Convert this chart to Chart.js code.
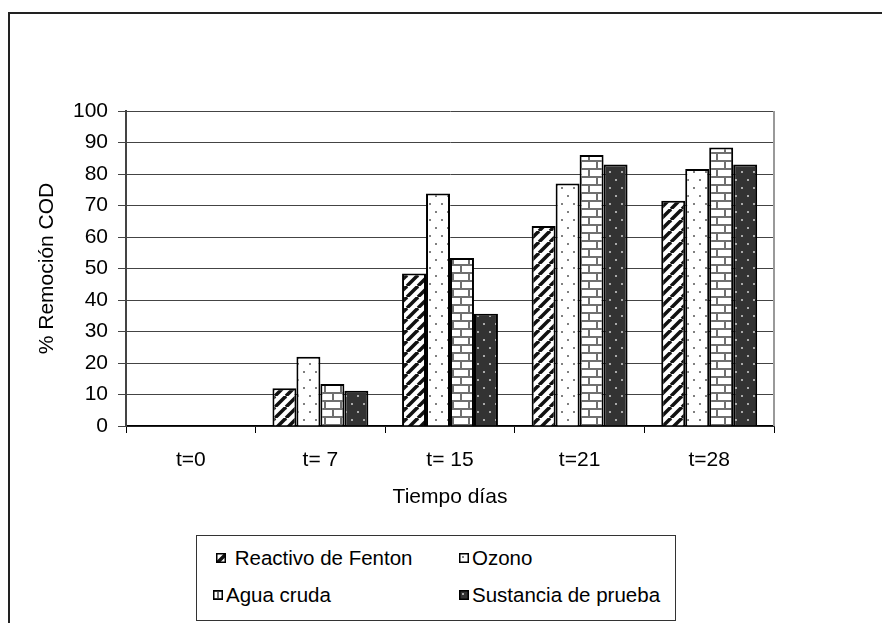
<!DOCTYPE html>
<html>
<head>
<meta charset="utf-8">
<script src="https://cdn.jsdelivr.net/npm/chart.js@4/dist/chart.umd.min.js"></script>
<style>
  html, body { margin: 0; padding: 0; background: #fff; overflow: hidden; }
  #frame { position: absolute; left: 8px; top: 12px; width: 1000px; height: 1000px;
           border-left: 2px solid #222; border-top: 2px solid #222; }
  #wrap { position: absolute; left: 0; top: 0; width: 882px; height: 623px; }
  #legend { position: absolute; left: 196px; top: 535px; width: 480px; height: 86px;
            border: 1px solid #333; box-sizing: border-box; background: #fff;
            font-family: "Liberation Sans", Arial, sans-serif; font-size: 20.5px; color: #000; }
  .item { position: absolute; display: flex; align-items: center; white-space: pre; }
  .item canvas { width: 10px; height: 10px; margin-right: 3px; }
</style>
</head>
<body>
<div id="frame"></div>
<div id="wrap"><canvas id="c" width="882" height="623"></canvas></div>
<div id="legend"></div>
<script>
const categories = ['t=0', 't= 7', 't= 15', 't=21', 't=28'];
const seriesNames = [' Reactivo de Fenton', 'Ozono', 'Agua cruda', 'Sustancia de prueba'];
const fenton    = [0, 12.0, 48.4, 63.5, 71.5];
const ozono     = [0, 22.0, 73.8, 77.0, 81.6];
const aguaCruda = [0, 13.3, 53.3, 86.0, 88.4];
const sustancia = [0, 11.2, 35.6, 83.0, 83.0];
const yMin = 0, yMax = 100, yStep = 10;
const xTitle = 'Tiempo días';
const yTitle = '% Remoción COD';

function makeTile(w, h, draw) {
  const c = document.createElement('canvas');
  c.width = w; c.height = h;
  const g = c.getContext('2d');
  draw(g, w, h);
  return c;
}
const tiles = [
  makeTile(11, 11, (g, w, h) => {
    g.fillStyle = '#fff'; g.fillRect(0, 0, w, h);
    g.strokeStyle = '#111'; g.lineWidth = 3.5;
    for (const o of [-w, 0, w]) { g.beginPath(); g.moveTo(o, h); g.lineTo(o + w, 0); g.stroke(); }
  }),
  makeTile(12, 16, (g, w, h) => {
    g.fillStyle = '#fff'; g.fillRect(0, 0, w, h);
    g.fillStyle = '#808080'; g.fillRect(3, 3, 2, 2); g.fillRect(9, 11, 2, 2);
  }),
  makeTile(16, 16, (g, w, h) => {
    g.fillStyle = '#fff'; g.fillRect(0, 0, w, h);
    g.fillStyle = '#707070';
    g.fillRect(0, 0, w, 2); g.fillRect(0, 8, w, 2);
    g.fillRect(4, 2, 2, 6); g.fillRect(12, 10, 2, 6);
  }),
  makeTile(12, 16, (g, w, h) => {
    g.fillStyle = '#333'; g.fillRect(0, 0, w, h);
    g.fillStyle = '#aaa'; g.fillRect(3, 3, 2, 2); g.fillRect(9, 11, 2, 2);
  })
];
const ctx = document.getElementById('c').getContext('2d');
const patterns = tiles.map(t => ctx.createPattern(t, 'repeat'));

const seriesData = [fenton, ozono, aguaCruda, sustancia];
const datasets = seriesData.map((d, i) => ({
  label: seriesNames[i], data: d,
  backgroundColor: patterns[i], borderColor: '#000', borderWidth: 2,
  categoryPercentage: 0.74, barPercentage: 1.0
}));

const FONT = { family: '"Liberation Sans", Arial, sans-serif', size: 21 };

const rightBorder = {
  id: 'rightBorder',
  afterDatasetsDraw(chart) {
    const a = chart.chartArea, g = chart.ctx;
    g.save(); g.strokeStyle = '#999'; g.lineWidth = 2;
    g.beginPath(); g.moveTo(a.right, a.top); g.lineTo(a.right, a.bottom); g.stroke();
    g.restore();
  }
};

new Chart(ctx, {
  type: 'bar',
  data: { labels: categories, datasets },
  plugins: [rightBorder],
  options: {
    responsive: false, animation: false,
    layout: { padding: { top: 111, right: 108, bottom: 0, left: 0 } },
    plugins: { legend: { display: false }, tooltip: { enabled: false } },
    scales: {
      x: {
        grid: { display: true, drawOnChartArea: false, offset: true, tickLength: 7, color: '#000', lineWidth: 1 },
        border: { display: true, color: '#000', width: 1.5 },
        ticks: { color: '#000', font: FONT, padding: 15, maxRotation: 0 },
        title: { display: true, text: xTitle, color: '#000', font: FONT, padding: { top: 0, bottom: 113 } },
        afterFit(s) { s.height = 197; }
      },
      y: {
        min: yMin, max: yMax,
        grid: { display: true, drawOnChartArea: true, tickLength: 8, color: '#444', lineWidth: 1 },
        border: { display: true, color: '#444', width: 2 },
        ticks: { stepSize: yStep, color: '#000', font: FONT, padding: 10 },
        title: { display: true, text: yTitle, color: '#000', font: FONT, padding: { top: 35, bottom: 0 } },
        afterFit(s) { s.width = 126; }
      }
    }
  }
});

// HTML legend
const legend = document.getElementById('legend');
const pos = [[19, 22], [262, 22], [16, 59], [262, 59]];
seriesNames.forEach((name, i) => {
  const it = document.createElement('div');
  it.className = 'item';
  it.style.left = pos[i][0] + 'px';
  it.style.top = (pos[i][1] - 12) + 'px';
  const m = document.createElement('canvas');
  m.width = 10; m.height = 10;
  const mg = m.getContext('2d');
  mg.fillStyle = mg.createPattern(tiles[i], 'repeat'); mg.fillRect(0, 0, 10, 10);
  mg.strokeStyle = '#000'; mg.lineWidth = 1.5; mg.strokeRect(0.75, 0.75, 8.5, 8.5);
  it.appendChild(m);
  const s = document.createElement('span'); s.textContent = name;
  it.appendChild(s);
  legend.appendChild(it);
});
</script>
</body>
</html>
